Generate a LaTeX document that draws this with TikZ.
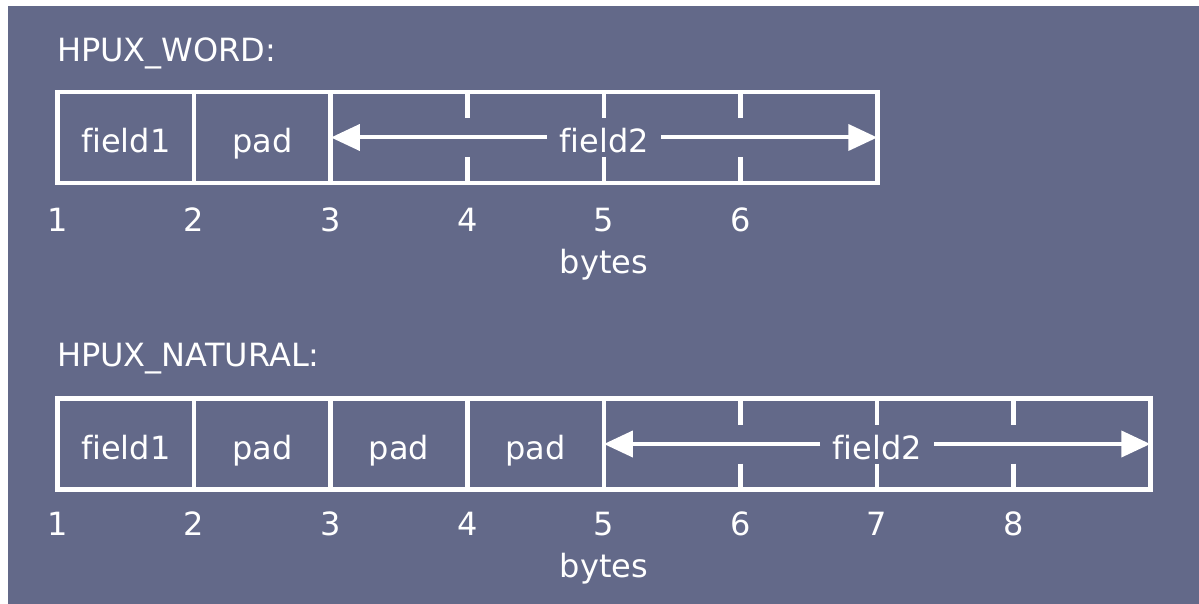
\documentclass[tikz,border=0pt]{standalone}
\usepackage{fontspec}
\setmainfont[Ligatures=NoCommon]{DejaVu Sans}
\usetikzlibrary{arrows.meta}
\definecolor{slate}{RGB}{99,105,137}
\begin{document}
\begin{tikzpicture}[x=1pt,y=-1pt,
  every node/.style={text=white, inner sep=0pt, font=\fontsize{32}{38}\selectfont},
  cell/.style={draw=white, line width=4.5pt, outer sep=0pt, minimum height=91pt,
               text height=31pt, text depth=0pt},
  onecell/.style={cell, minimum width=136.6pt},
  widecell/.style={cell, minimum width=546.4pt},
  tickmark/.style={draw=white, line width=4.5pt},
  flabel/.style={fill=slate, inner xsep=12pt, text height=31pt, text depth=0pt},
  bound/.style={-{Triangle[length=29pt,width=26pt]}, draw=white, line width=4pt},
  num/.style={anchor=base},
  title/.style={anchor=base west},
]
% canvas
\useasboundingbox (0,0) rectangle (1199,604);
\fill[white] (0,0) rectangle (1199,604);
\fill[slate] (8,6) rectangle (1199,604);

% ---------- HPUX_WORD layout ----------
\node[title] (wtitle) at (57,62) {HPUX\_WORD:};
\node[onecell]  (wf1)  at (125.8,137.5) {field1};
\node[onecell]  (wpad) at (262.4,137.5) {pad};
\node[widecell] (wf2)  at (604.1,137.5) {};
\foreach \x in {467.3,603.9,740.5}{
  \draw[tickmark] (\x,92) -- (\x,118);
  \draw[tickmark] (\x,157) -- (\x,183);
}
\node[flabel] (wf2lbl) at (wf2.center) {field2};
\draw[bound] (wf2lbl.west) -- (wf2.west);
\draw[bound] (wf2lbl.east) -- (wf2.east);
\foreach \i in {1,...,6}
  \node[num] (wn\i) at ({57.5+136.6*(\i-1)},232) {\i};
\node[num] (wbytes) at (604,273) {bytes};

% ---------- HPUX_NATURAL layout ----------
\node[title] (ntitle) at (57,366) {HPUX\_NATURAL:};
\node[onecell]  (nf1)   at (125.8,444) {field1};
\node[onecell]  (npadA) at (262.4,444) {pad};
\node[onecell]  (npadB) at (399.0,444) {pad};
\node[onecell]  (npadC) at (535.6,444) {pad};
\node[widecell] (nf2)   at (877.1,444) {};
\foreach \x in {740.5,877.1,1013.7}{
  \draw[tickmark] (\x,398.5) -- (\x,424.5);
  \draw[tickmark] (\x,463.5) -- (\x,489.5);
}
\node[flabel] (nf2lbl) at (nf2.center) {field2};
\draw[bound] (nf2lbl.west) -- (nf2.west);
\draw[bound] (nf2lbl.east) -- (nf2.east);
\foreach \i in {1,...,8}
  \node[num] (nn\i) at ({57.5+136.6*(\i-1)},535) {\i};
\node[num] (nbytes) at (604,577) {bytes};
\end{tikzpicture}
\end{document}
